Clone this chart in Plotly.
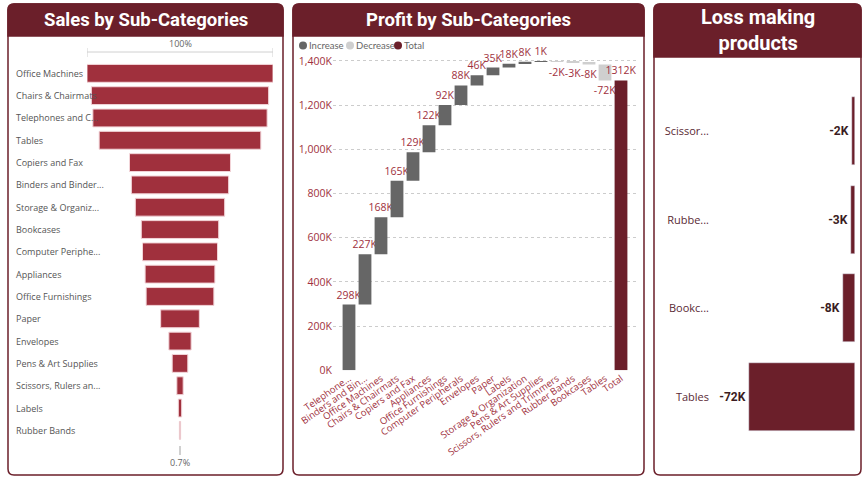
import plotly.graph_objects as go

W, H = 863, 481

# Sales by sub-category (funnel), in $K
funnel_labels = ["Office Machines", "Chairs & Chairmats", "Telephones and C...", "Tables",
                 "Copiers and Fax", "Binders and Binder...", "Storage & Organiz...", "Bookcases",
                 "Computer Periphe...", "Appliances", "Office Furnishings", "Paper", "Envelopes",
                 "Pens & Art Supplies", "Scissors, Rulers an...", "Labels", "Rubber Bands"]
sales = [2170, 2068, 2033, 1886, 1178, 1135, 1042, 903, 875, 814, 790, 451, 260, 182, 74, 39, 15]

# Profit by sub-category (waterfall), in $K
wf_labels = ["Telephone...", "Binders and Bin...", "Office Machines", "Chairs & Chairmats",
             "Copiers and Fax", "Appliances", "Office Furnishings", "Computer Peripherals",
             "Envelopes", "Paper", "Labels", "Storage & Organization", "Pens & Art Supplies",
             "Scissors, Rulers and Trimmers", "Rubber Bands", "Bookcases", "Tables"]
profit = [297.6, 227.4, 168.2, 164.8, 128.9, 122.2, 91.8, 88.1, 46.3, 35.0, 17.6, 8.2, 1.2,
          -1.8, -2.7, -8.3, -72.4]
profit_ticks = [0, 200, 400, 600, 800, 1000, 1200, 1400]

# Loss making products, in $K
loss_labels = ["Scissor...", "Rubbe...", "Bookc...", "Tables"]
loss_values = [-1.8, -2.7, -8.3, -72.4]

MAROON = "#6b1f2a"
RED = "#a0303d"
BODY_FONT = "Open Sans"
TITLE_FONT = "Liberation Sans Narrow, Roboto"


def px(x):
    return x / W


def py(y):
    return 1 - y / H


def rounded_path(x0, y0, x1, y1, r, bottom_round=True):
    # path in paper coords, built from pixel positions
    pts = []
    pts.append(f"M {px(x0 + r)},{py(y0)}")
    pts.append(f"L {px(x1 - r)},{py(y0)}")
    pts.append(f"Q {px(x1)},{py(y0)} {px(x1)},{py(y0 + r)}")
    if bottom_round:
        pts.append(f"L {px(x1)},{py(y1 - r)}")
        pts.append(f"Q {px(x1)},{py(y1)} {px(x1 - r)},{py(y1)}")
        pts.append(f"L {px(x0 + r)},{py(y1)}")
        pts.append(f"Q {px(x0)},{py(y1)} {px(x0)},{py(y1 - r)}")
    else:
        pts.append(f"L {px(x1)},{py(y1)}")
        pts.append(f"L {px(x0)},{py(y1)}")
    pts.append(f"L {px(x0)},{py(y0 + r)}")
    pts.append(f"Q {px(x0)},{py(y0)} {px(x0 + r)},{py(y0)}")
    return " ".join(pts) + " Z"


panels = [
    # x0, y0, x1, y1, header bottom, title, title font, size
    (8, 4, 283, 475, 36, "Sales by Sub-Categories", TITLE_FONT, 18.5),
    (293, 4, 644, 475, 36, "Profit by Sub-Categories", TITLE_FONT, 18.5),
    (654, 4, 861, 475, 57, "Loss making<br>products", "Roboto", 20),
]

fig = go.Figure()

# --- funnel ---
fig.add_trace(go.Funnel(
    y=funnel_labels, x=sales, xaxis="x", yaxis="y",
    marker=dict(color=RED, line=dict(color="#f2d4d8", width=1)),
    connector=dict(visible=False), textinfo="none", hoverinfo="x+y",
    showlegend=False,
))

# --- waterfall ---
total = sum(profit)
wf_text = [f"{v:.0f}K" for v in profit] + [f"{total:.0f}K"]
fig.add_trace(go.Waterfall(
    x=wf_labels + ["Total"], y=profit + [0],
    measure=["relative"] * len(profit) + ["total"],
    xaxis="x2", yaxis="y2",
    increasing=dict(marker=dict(color="#666666")),
    decreasing=dict(marker=dict(color="#cfcfcf")),
    totals=dict(marker=dict(color=MAROON)),
    connector=dict(visible=False),
    text=wf_text, textposition="outside", constraintext="none", cliponaxis=False,
    textfont=dict(color=RED, size=10.5, family=BODY_FONT),
    showlegend=False,
))

# --- loss making bars ---
fig.add_trace(go.Bar(
    y=loss_labels, x=loss_values, orientation="h", xaxis="x3", yaxis="y3",
    marker=dict(color=MAROON), text=[f"{v:.0f}K" for v in loss_values],
    textposition="outside", constraintext="none", cliponaxis=False, width=0.77,
    textfont=dict(color="#3b1c22", size=12, family="Roboto", weight="bold"),
    showlegend=False,
))

shapes = []
annotations = []
for x0, y0, x1, y1, hb, title, tfont, tsize in panels:
    shapes.append(dict(type="path", xref="paper", yref="paper", layer="below",
                       path=rounded_path(x0, y0, x1, y1, 6),
                       fillcolor="white", line=dict(color=MAROON, width=1.5)))
    shapes.append(dict(type="path", xref="paper", yref="paper", layer="below",
                       path=rounded_path(x0, y0, x1, hb, 6, bottom_round=False),
                       fillcolor=MAROON, line=dict(color=MAROON, width=1.5)))
    annotations.append(dict(
        text=f"<b>{title}</b>", xref="paper", yref="paper",
        x=px((x0 + x1) / 2), y=py((y0 + hb) / 2), xanchor="center", yanchor="middle",
        showarrow=False, font=dict(color="white", size=tsize, family=tfont),
    ))

# waterfall legend: marker dots + labels
legend_items = [("Increase", "#666666", 303), ("Decrease", "#cfcfcf", 350), ("Total", MAROON, 398)]
for name, col, mx in legend_items:
    shapes.append(dict(type="circle", xref="paper", yref="paper",
                       x0=px(mx - 4), x1=px(mx + 4), y0=py(49.5), y1=py(41.5),
                       fillcolor=col, line=dict(width=0)))
    annotations.append(dict(
        text=name, xref="paper", yref="paper", x=px(mx + 4), y=py(45.5),
        xanchor="left", yanchor="middle", showarrow=False,
        font=dict(color="#666666", size=9.5, family="Lato"),
    ))

# funnel category labels, left aligned
for lab in funnel_labels:
    annotations.append(dict(
        text=lab, xref="paper", yref="y", x=px(14), y=lab, xanchor="left",
        yanchor="middle", showarrow=False,
        font=dict(color="#555555", size=9, family=BODY_FONT),
    ))

# funnel percentage brackets
half = sales[0] / 2
shapes += [
    dict(type="line", xref="x", yref="paper", x0=-half, x1=half, y0=py(52), y1=py(52),
         line=dict(color="#d0d0d0", width=1)),
    dict(type="line", xref="x", yref="paper", x0=-half, x1=-half, y0=py(48), y1=py(57),
         line=dict(color="#d0d0d0", width=1)),
    dict(type="line", xref="x", yref="paper", x0=half, x1=half, y0=py(48), y1=py(57),
         line=dict(color="#d0d0d0", width=1)),
    dict(type="line", xref="x", yref="paper", x0=0, x1=0, y0=py(446), y1=py(455),
         line=dict(color="#d0d0d0", width=2)),
]
annotations += [
    dict(text="100%", xref="x", yref="paper", x=0, y=py(43), showarrow=False,
         yanchor="middle", font=dict(color="#666666", size=9, family=BODY_FONT)),
    dict(text=f"{sales[-1] / sales[0] * 100:.1f}%", xref="x", yref="paper", x=0, y=py(462),
         showarrow=False, yanchor="middle", font=dict(color="#666666", size=9, family=BODY_FONT)),
]

fig.update_layout(
    width=W, height=H, margin=dict(l=0, r=0, t=0, b=0, autoexpand=False),
    paper_bgcolor="white", plot_bgcolor="rgba(0,0,0,0)",
    font=dict(family=BODY_FONT),
    shapes=shapes, annotations=annotations,
    bargap=0, showlegend=False,
    xaxis=dict(domain=[px(87), px(273)], range=[-half, half], visible=False,
               automargin=False),
    yaxis=dict(domain=[py(441.5), py(62.2)], range=[len(sales) - 0.5, -0.5],
               visible=False, type="category", automargin=False),
    xaxis2=dict(domain=[px(333), px(637)], anchor="y2", range=[-1, len(profit) + 1],
                tickangle=-35, tickfont=dict(color=RED, size=9.5), showgrid=False,
                showline=False, ticks="", automargin=False),
    yaxis2=dict(domain=[py(370.3), py(55)], anchor="x2", range=[0, 1427],
                tickvals=profit_ticks, ticktext=[f"{v:,}K" for v in profit_ticks],
                tickfont=dict(color=RED, size=10.5), automargin=False,
                gridcolor="#cccccc", griddash="dot", zeroline=False, showline=False),
    xaxis3=dict(domain=[px(716), px(855)], anchor="y3", range=[-94.7, 0], visible=False,
                automargin=False),
    yaxis3=dict(domain=[py(441), py(87)], anchor="x3", range=[3.5, -0.5], type="category",
                tickfont=dict(color="#5a2a35", size=11), showgrid=False, ticks="",
                showline=False, ticklabelstandoff=6, automargin=False),
)

# the page's default body margin would push the figure off the window
fig.write_html("out.html", config={"displayModeBar": False},
               post_script="document.body.style.margin='0';document.body.style.overflow='hidden';")
